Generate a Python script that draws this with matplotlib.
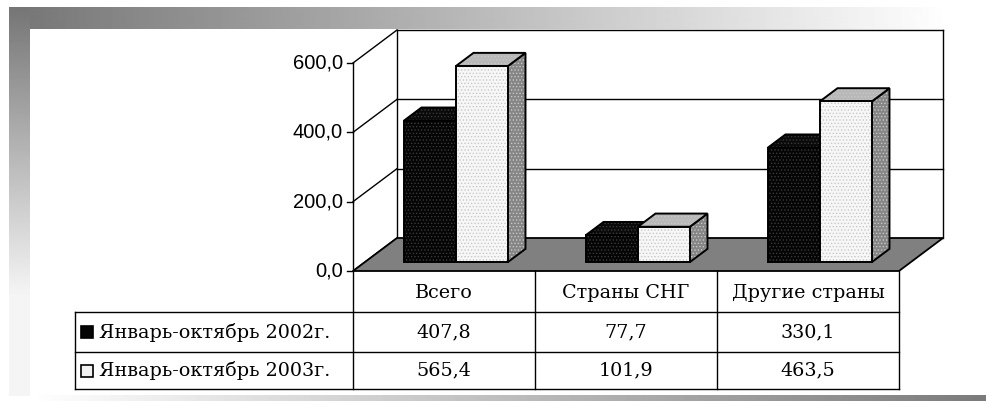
import numpy as np
import matplotlib
matplotlib.use("Agg")
import matplotlib.pyplot as plt
from matplotlib.patches import Polygon, Rectangle

plt.rcParams['hatch.linewidth'] = 0.6

categories = ["Всего", "Страны СНГ", "Другие страны"]
series_names = ["Январь-октябрь 2002г.", "Январь-октябрь 2003г."]
values_2002 = [407.8, 77.7, 330.1]
values_2003 = [565.4, 101.9, 463.5]
y_ticks = [0, 200, 400, 600]
y_tick_labels = ["0,0", "200,0", "400,0", "600,0"]

# pixel geometry of the pseudo-3d plot (figure is drawn in pixel coords)
X0, Y0 = 353, 271          # front-left corner of the floor
CAT_W = 182                # width of one category
DX, DY = 44, 33            # depth offset of the back wall
K = (271 - 63) / 600.0     # pixels per unit
BAR_D0, BAR_D1 = 0.27, 0.67
GAP = 1.5                  # excel gap width 150%


def proj(xc, v, d):
    return X0 + xc * CAT_W + d * DX, Y0 - v * K - d * DY


fig = plt.figure(figsize=(9.87, 4.01), dpi=100)
ax = fig.add_axes([0, 0, 1, 1])
ax.set_xlim(0, 987)
ax.set_ylim(401, 0)
ax.axis('off')

# gradient frame
top = np.clip(0.46 + 0.54 * (np.arange(9, 987) - 9) / 940.0, 0, 1)[None, :]
ax.imshow(top, cmap='gray', vmin=0, vmax=1, extent=(9, 987, 29, 7), aspect='auto', zorder=0)
left = np.clip(0.46 + 0.52 * (np.arange(7, 396) - 7) / 300.0, 0, 0.96)[:, None]
ax.imshow(left, cmap='gray', vmin=0, vmax=1, extent=(9, 30, 396, 7), aspect='auto', zorder=0)
bottom = np.clip(1 - 0.52 * (np.arange(30, 987) - 30) / 957.0, 0, 1)[None, :]
ax.imshow(bottom, cmap='gray', vmin=0, vmax=1, extent=(30, 987, 401, 395), aspect='auto', zorder=0)

n = len(categories)
lw = 1.0

# floor
floor = [proj(0, 0, 0), proj(n, 0, 0), proj(n, 0, 1), proj(0, 0, 1)]
ax.add_patch(Polygon(floor, closed=True, facecolor='#808080', edgecolor='black', lw=1.3, zorder=2))

# back wall and side wall lines
for v in y_ticks:
    (xa, ya), (xb, yb) = proj(0, v, 0), proj(0, v, 1)
    ax.plot([xa, xb], [ya, yb], color='black', lw=lw, zorder=1)
    xe, ye = proj(n, v, 1)
    if v > 0:
        ax.plot([xb, xe], [yb, ye], color='black', lw=lw, zorder=1)
    ax.plot([xa - 6, xa], [ya, ya], color='black', lw=lw, zorder=3)
    ax.text(xa - 10, ya, y_tick_labels[y_ticks.index(v)], ha='right', va='center',
            fontsize=14.5, family='Liberation Sans', zorder=3)
xb0, yb0 = proj(0, 0, 1)
xb1, yb1 = proj(0, max(y_ticks), 1)
ax.plot([xb0, xb1], [yb0, yb1], color='black', lw=lw, zorder=1)
xr0, yr0 = proj(n, 0, 1)
xr1, yr1 = proj(n, max(y_ticks), 1)
ax.plot([xr0, xr1], [yr0, yr1], color='black', lw=lw, zorder=1)

# bars
bw = 1.0 / (2 + GAP)
styles = [
    dict(front='#050505', top='#0a0a0a', side='#202020', hatch_col='#3a3a3a'),
    dict(front='#f7f7f7', top='#b8b8b8', side='#858585', hatch_col='#c8c8c8'),
]
for i in range(n):
    for s, vals in enumerate([values_2002, values_2003]):
        st = styles[s]
        x_l = i + GAP * bw / 2 + s * bw
        x_r = x_l + bw
        v = vals[i]
        front = [proj(x_l, 0, BAR_D0), proj(x_r, 0, BAR_D0), proj(x_r, v, BAR_D0), proj(x_l, v, BAR_D0)]
        topf = [proj(x_l, v, BAR_D0), proj(x_r, v, BAR_D0), proj(x_r, v, BAR_D1), proj(x_l, v, BAR_D1)]
        side = [proj(x_r, 0, BAR_D0), proj(x_r, 0, BAR_D1), proj(x_r, v, BAR_D1), proj(x_r, v, BAR_D0)]
        z = 4 + i * 2 + s
        for poly, fc in [(side, st['side']), (topf, st['top']), (front, st['front'])]:
            ax.add_patch(Polygon(poly, closed=True, facecolor=fc, edgecolor=st['hatch_col'],
                                 hatch='.....', lw=0, zorder=z))
            ax.add_patch(Polygon(poly, closed=True, facecolor='none', edgecolor='black',
                                 lw=1.4, joinstyle='miter', zorder=z))

# data table
TAB_L = 75
row_y = [Y0, 312, 352, 389]
serif = 'DejaVu Serif'
fs = 13.8
ax.plot([X0, X0], [proj(0, max(y_ticks), 0)[1], row_y[-1]], color='black', lw=lw, zorder=20)
for i in range(1, n + 1):
    xc = X0 + i * CAT_W
    ax.plot([xc, xc], [row_y[0], row_y[-1]], color='black', lw=lw, zorder=20)
for yy in row_y[1:]:
    ax.plot([TAB_L, X0 + n * CAT_W], [yy, yy], color='black', lw=lw, zorder=20)
ax.plot([TAB_L, TAB_L], [row_y[1], row_y[-1]], color='black', lw=lw, zorder=20)

for i, c in enumerate(categories):
    ax.text(X0 + (i + 0.5) * CAT_W, (row_y[0] + row_y[1]) / 2 + 1, c, ha='center', va='center',
            fontsize=fs, family=serif, zorder=21)
marker_fc = ['#050505', '#f2f2f2']
for r, (name, vals) in enumerate(zip(series_names, [values_2002, values_2003])):
    yc = (row_y[r + 1] + row_y[r + 2]) / 2
    ax.add_patch(Rectangle((81, yc - 6), 12, 12, facecolor=marker_fc[r], edgecolor='black',
                           lw=1.2, zorder=21))
    ax.text(99, yc, name, ha='left', va='center', fontsize=fs, family=serif, zorder=21)
    for i, v in enumerate(vals):
        ax.text(X0 + (i + 0.5) * CAT_W, yc, f"{v:.1f}".replace('.', ','), ha='center', va='center',
                fontsize=fs, family=serif, zorder=21)

fig.savefig("out.png", dpi=100)
